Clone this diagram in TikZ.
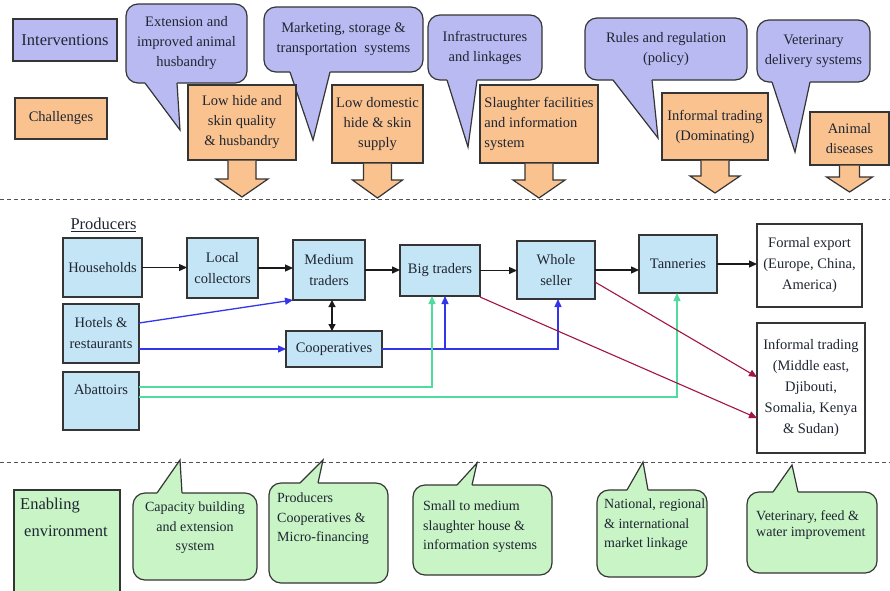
\documentclass[tikz,border=0pt]{standalone}
\usepackage{fontspec}
\setmainfont{Liberation Serif}[Ligatures=TeX]
\newfontfamily\ser{Liberation Serif}[Ligatures=TeX]
\usetikzlibrary{calc,arrows.meta}
\definecolor{lav}{HTML}{BABAF2}
\definecolor{org}{HTML}{F9C28F}
\definecolor{lblue}{HTML}{C4E5F6}
\definecolor{lgreen}{HTML}{C8F4C6}
\definecolor{bordc}{HTML}{353535}
\definecolor{blu}{HTML}{3434EA}
\definecolor{grn}{HTML}{50DC9E}
\definecolor{rd}{HTML}{A3143F}
\definecolor{txt}{HTML}{1F2531}
\definecolor{blk}{HTML}{1A1A1A}
\tikzset{
  bord/.style={draw=bordc, line width=1.2pt},
  basebox/.style={bord, outer sep=0pt, inner sep=2pt, align=center, text=txt, font=\ser\fontsize{14.5}{20}\selectfont},
  lbub/.style={basebox, fill=lav, rounded corners=12pt},
  gbub/.style={basebox, fill=lgreen, rounded corners=12pt},
  gtxt/.style={text=txt, inner sep=0pt, font=\ser\fontsize{14}{19.5}\selectfont},
  obox/.style={basebox, fill=org},
  pbox/.style={basebox, fill=lblue, font=\ser\fontsize{14.5}{21}\selectfont},
  wbox/.style={basebox, fill=white, font=\ser\fontsize{14.5}{21}\selectfont},
  flow/.style={line width=1.3pt, -{Triangle[length=8pt,width=7pt]}},
  sepline/.style={draw=bordc!85, line width=1pt, dash pattern=on 4pt off 3pt},
}
% block arrow under a challenge box: node, length, shaft half, head half, head length
\newcommand\blockarrow[5]{%
  \filldraw[bord, fill=org, line join=miter]
   ($(#1.south)+(-#3,0.7)$) -- ($(#1.south)+(-#3,{#2-#5})$) -- ($(#1.south)+(-#4,{#2-#5})$)
   -- ($(#1.south)+(0,#2)$) -- ($(#1.south)+(#4,{#2-#5})$) -- ($(#1.south)+(#3,{#2-#5})$)
   -- ($(#1.south)+(#3,0.7)$);}
% pointer downward: fill colour, node, left offset, right offset, tip
\newcommand\downptr[5]{%
  \fill[#1] ($(#2.south west)+(#3,-3)$) -- ($(#2.south west)+(#3,0.8)$) -- #5 -- ($(#2.south west)+(#4,0.8)$) -- ($(#2.south west)+(#4,-3)$) -- cycle;
  \draw[bord, line join=miter] ($(#2.south west)+(#3,0)$) -- #5 -- ($(#2.south west)+(#4,0)$);}
% pointer upward
\newcommand\upptr[5]{%
  \fill[#1] ($(#2.north west)+(#3,3)$) -- ($(#2.north west)+(#3,-0.8)$) -- #5 -- ($(#2.north west)+(#4,-0.8)$) -- ($(#2.north west)+(#4,3)$) -- cycle;
  \draw[bord, line join=miter] ($(#2.north west)+(#3,0)$) -- #5 -- ($(#2.north west)+(#4,0)$);}
\begin{document}
\ser
\begin{tikzpicture}[x=1pt,y=-1pt]
\useasboundingbox (0,0) rectangle (890,590);
\fill[white] (0,0) rectangle (890,590);

% separators
\draw[sepline] (0,199) -- (890,199);
\draw[sepline] (0,462) -- (890,462);

% ---------- top: interventions & challenges ----------
\node[basebox, fill=lav, minimum width=104, minimum height=42, font=\ser\fontsize{16.5}{20}\selectfont] (intv) at (65,40) {Interventions};
\node[obox, minimum width=92, minimum height=41] (chal) at (61,118.5) {Challenges};

\node[lbub, minimum width=121, minimum height=79] (b1) at (186.5,43.5) {Extension and\\improved animal\\husbandry};
\downptr{lav}{b1}{19}{51}{(180,130)}
\node[lbub, minimum width=159, minimum height=65] (b2) at (343.5,39.5) {Marketing, storage \&\\transportation\ \ systems};
\downptr{lav}{b2}{26}{66}{(313,140)}
\node[lbub, minimum width=114, minimum height=65] (b3) at (485,47.5) {Infrastructures\\and linkages};
\downptr{lav}{b3}{19}{49}{(468,147)}
\node[lbub, minimum width=162, minimum height=62] (b4) at (666,49) {Rules and regulation\\(policy)};
\downptr{lav}{b4}{28}{67}{(658,138)}
\node[lbub, minimum width=113, minimum height=62] (b5) at (813.5,51) {Veterinary\\delivery systems};
\downptr{lav}{b5}{15}{53}{(795,152)}

\node[obox, minimum width=108, minimum height=75] (o1) at (242,122.5) {Low hide and\\skin quality\\\& husbandry};
\blockarrow{o1}{37}{14}{26}{18}
\node[obox, minimum width=91, minimum height=78] (o2) at (377.5,124) {Low domestic\\hide \& skin\\supply};
\blockarrow{o2}{35}{14}{25}{18}
\node[obox, minimum width=118, minimum height=78, align=left] (o3) at (539,124) {Slaughter facilities\\and information\\system};
\blockarrow{o3}{35}{14}{26}{18}
\node[obox, minimum width=106, minimum height=67] (o4) at (715,126.5) {Informal trading\\(Dominating)};
\blockarrow{o4}{33}{14}{25}{17}
\node[obox, minimum width=79, minimum height=53] (o5) at (849.5,138.5) {Animal\\diseases};
\blockarrow{o5}{27}{10}{23}{15}

% ---------- middle: value chain ----------
\node[text=txt, inner sep=0pt, font=\ser\fontsize{16.5}{20}\selectfont] (prod) at (103.5,225) {\underline{Producers}};
\node[pbox, minimum width=79, minimum height=59] (hh) at (102.5,267.5) {Households};
\node[pbox, minimum width=71, minimum height=60] (lc) at (222.5,268) {Local\\collectors};
\node[pbox, minimum width=72, minimum height=60] (med) at (329,270) {Medium\\traders};
\node[pbox, minimum width=80, minimum height=51] (big) at (440,270.5) {Big traders};
\node[pbox, minimum width=78, minimum height=58] (wh) at (556,270) {Whole\\seller};
\node[pbox, minimum width=78, minimum height=58] (tan) at (678,264) {Tanneries};
\node[wbox, minimum width=105, minimum height=83] (fx) at (809.5,265.5) {Formal export\\(Europe, China,\\America)};
\node[wbox, minimum width=108, minimum height=130] (inf) at (811,388) {Informal trading\\(Middle east,\\Djibouti,\\Somalia, Kenya\\\& Sudan)};
\node[pbox, minimum width=76, minimum height=59] (hot) at (101,333.5) {Hotels \&\\restaurants};
\node[pbox, minimum width=96, minimum height=36] (coop) at (334,349) {Cooperatives};
\node[pbox, minimum width=76, minimum height=58] (abat) at (101,401) {};
\node[text=txt, inner sep=0pt, font=\ser\fontsize{14.5}{21}\selectfont] (abatl) at (101,390) {Abattoirs};

\draw[flow, blk] (hh.east) -- (hh.east -| lc.west);
\draw[flow, blk] (lc.east) -- (lc.east -| med.west);
\draw[flow, blk] (med.east) -- (med.east -| big.west);
\draw[flow, blk] (big.east) -- (big.east -| wh.west);
\draw[flow, blk] (wh.east) -- (wh.east -| tan.west);
\draw[flow, blk] (tan.east) -- (tan.east -| fx.west);
\coordinate (mc) at ($(med.south)+(3,0)$);
\draw[line width=1.3pt, blk, {Triangle[length=7pt,width=7pt]}-{Triangle[length=7pt,width=7pt]}] (mc) -- (mc |- coop.north);

\coordinate (hm) at ($(hot.north east)+(0,19)$);
\draw[flow, blu] (hm) -- (med.south west);
\draw[flow, blu] (coop.west -| hot.east) -- (coop.west);
\coordinate (bj) at ($(big.south)+(5,0)$);
\coordinate (wj) at ($(wh.south)+(2,0)$);
\draw[flow, blu] (coop.east) -| (wj);
\draw[flow, blu] (coop.east) -| (bj);

\coordinate (ab1) at ($(abat.east)+(0,-14)$);
\coordinate (ab2) at ($(abat.east)+(0,-4)$);
\coordinate (bg1) at ($(big.south)+(-8,0)$);
\coordinate (tn1) at ($(tan.south)+(-1,0)$);
\draw[flow, grn] (ab1) -| (bg1);
\draw[flow, grn] (ab2) -| (tn1);

\coordinate (bs) at ($(big.south east)+(0,1)$);
\coordinate (i1) at ($(inf.north west)+(0,95)$);
\coordinate (ws) at ($(wh.east)+(0,12)$);
\coordinate (i2) at ($(inf.north west)+(0,54)$);
\draw[flow, rd, line width=1.1pt] (bs) -- (i1);
\draw[flow, rd, line width=1.1pt] (ws) -- (i2);

% ---------- bottom: enabling environment ----------
\node[basebox, fill=lgreen, minimum width=106, minimum height=110, anchor=north west] (enab) at (14,490) {};
\node[text=txt, inner sep=0pt, align=left, anchor=north west, font=\ser\fontsize{16.5}{27}\selectfont] (enabt) at (20,498) {Enabling\\\hspace{4pt}environment};

\node[gbub, minimum width=124, minimum height=87] (g1) at (195,536.5) {};
\upptr{lgreen}{g1}{24}{49}{(180,460)}
\node[gtxt, align=center] (g1t) at (195,528) {Capacity building\\and extension\\system};

\node[gbub, minimum width=119, minimum height=100] (g2) at (328.5,533) {};
\upptr{lgreen}{g2}{31}{49}{(323,460)}
\node[gtxt, align=left, anchor=west] (g2t) at (277,519) {Producers\\Cooperatives \&\\Micro-financing};

\node[gbub, minimum width=139, minimum height=90] (g3) at (482.5,530) {};
\upptr{lgreen}{g3}{44}{59}{(477,463)}
\node[gtxt, align=left, anchor=west] (g3t) at (423,527) {Small to medium\\slaughter house \&\\information systems};

\node[gbub, minimum width=110, minimum height=87] (g4) at (652,533.5) {};
\upptr{lgreen}{g4}{30}{51}{(643,462)}
\node[gtxt, align=left, anchor=west] (g4t) at (604,525) {National, regional\\\& international\\market linkage};

\node[gbub, minimum width=130, minimum height=81] (g5) at (812,532.5) {};
\upptr{lgreen}{g5}{26}{51}{(792,465)}
\node[gtxt, align=left, anchor=west, font=\ser\fontsize{14}{16}\selectfont] (g5t) at (756,525) {Veterinary, feed \&\\water improvement};
\end{tikzpicture}
\end{document}
